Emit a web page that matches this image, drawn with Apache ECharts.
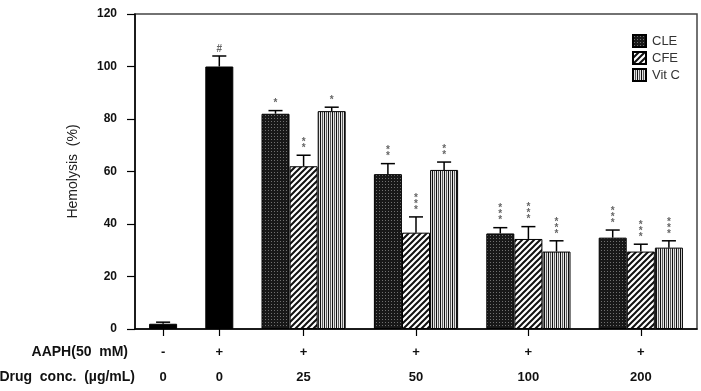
<!DOCTYPE html>
<html>
<head>
<meta charset="utf-8">
<script src="https://cdn.jsdelivr.net/npm/echarts@6/dist/echarts.min.js"></script>
<style>
html, body { margin: 0; padding: 0; background: #fff; }
#main { width: 701px; height: 391px; }
</style>
</head>
<body>
<div id="main"></div>
<script>
// group centres on the x scale (0..10) and the two label rows under them
const groupPos = [0.5, 1.5, 3, 5, 7, 9];
const aaphRow = ['-', '+', '+', '+', '+', '+'];
const concRow = ['0', '0', '25', '50', '100', '200'];

// control groups (no drug / AAPH only)
const controlVals = [2, 100];
const controlErr = [0.6, 4];
const controlSig = ['', '#'];

// treated groups: 25, 50, 100, 200 ug/mL
const cleVals = [82, 59, 36.4, 34.8];
const cleErr = [1.2, 4, 2.2, 2.9];
const cleSig = ['*', '**', '***', '***'];

const cfeVals = [62, 36.7, 34.3, 29.5];
const cfeErr = [4.2, 6, 4.7, 2.8];
const cfeSig = ['**', '***', '***', '***'];

const vitcVals = [83, 60.6, 29.5, 31];
const vitcErr = [1.5, 3, 4.1, 2.6];
const vitcSig = ['*', '**', '***', '***'];

const FONT = '"Liberation Sans", Arial, sans-serif';

function makePattern(w, h, draw) {
    const c = document.createElement('canvas');
    c.width = w;
    c.height = h;
    draw(c.getContext('2d'));
    return { image: c, repeat: 'repeat' };
}

// dark dotted fill
const clePattern = makePattern(3, 3, ctx => {
    ctx.fillStyle = '#181818';
    ctx.fillRect(0, 0, 3, 3);
    ctx.fillStyle = '#707070';
    ctx.fillRect(1, 1, 1, 1);
});
// diagonal hatch  ////
const cfePattern = makePattern(6, 6, ctx => {
    ctx.fillStyle = '#fff';
    ctx.fillRect(0, 0, 6, 6);
    ctx.strokeStyle = '#111';
    ctx.lineWidth = 2;
    ctx.beginPath();
    ctx.moveTo(-1, 7); ctx.lineTo(7, -1);
    ctx.moveTo(-1, 1); ctx.lineTo(1, -1);
    ctx.moveTo(5, 7); ctx.lineTo(7, 5);
    ctx.stroke();
});
// vertical stripes
const vitcPattern = makePattern(4, 4, ctx => {
    const cols = ['#111', '#e6e6e6', '#5a5a5a', '#e6e6e6'];
    cols.forEach((c, i) => { ctx.fillStyle = c; ctx.fillRect(i, 0, 1, 4); });
});

const treated = groupPos.slice(2);

function barSeries(name, xs, vals, fill) {
    return {
        name: name,
        type: 'bar',
        data: xs.map((x, i) => [x, vals[i]]),
        barWidth: 28,
        barGap: '-100%',
        itemStyle: { color: fill, borderColor: '#000', borderWidth: 1 },
        emphasis: { disabled: true }
    };
}

function errSeries(xs, vals, errs, sigs) {
    return {
        type: 'custom',
        silent: true,
        z: 5,
        data: xs.map((x, i) => [x, vals[i], errs[i]]),
        renderItem: (params, api) => {
            const x = api.value(0), v = api.value(1), e = api.value(2);
            const p0 = api.coord([x, v]);
            const p1 = api.coord([x, v + e]);
            const hw = api.size([0.125, 0])[0];
            return {
                type: 'group',
                children: [
                    { type: 'line', shape: { x1: p0[0], y1: p0[1], x2: p1[0], y2: p1[1] },
                      style: { stroke: '#000', lineWidth: 1.5 } },
                    { type: 'line', shape: { x1: p1[0] - hw, y1: p1[1], x2: p1[0] + hw, y2: p1[1] },
                      style: { stroke: '#000', lineWidth: 1.5 } },
                    { type: 'text', x: p1[0], y: p1[1] - 4,
                      style: { text: sigs[params.dataIndex].split('').join('\n'), fill: '#666',
                               font: 'bold 10px ' + FONT, align: 'center', verticalAlign: 'bottom', lineHeight: 6 } }
                ]
            };
        }
    };
}

function labelIndex(v) {
    return groupPos.findIndex(p => Math.abs(p - v) < 1e-6);
}

var myChart = echarts.init(document.getElementById('main'));
myChart.setOption({
    animation: false,
    grid: {
        left: 135, right: 4, top: 14, bottom: 62,
        show: true, borderColor: '#444', borderWidth: 1.5
    },
    legend: {
        data: ['CLE', 'CFE', 'Vit C'],
        orient: 'vertical',
        left: 627, top: 29,
        itemWidth: 13, itemHeight: 12, itemGap: 3,
        icon: 'rect',
        textStyle: { fontFamily: FONT, fontSize: 13, color: '#333', padding: [0, 0, 0, 1] }
    },
    xAxis: {
        type: 'value',
        min: 0, max: 10,
        splitLine: { show: false },
        axisLine: { show: true, lineStyle: { color: '#000', width: 1.5 } },
        axisTick: { show: true, customValues: groupPos, length: 7, lineStyle: { color: '#000', width: 1.2 } },
        axisLabel: {
            customValues: groupPos,
            margin: 11,
            formatter: v => {
                const i = labelIndex(v);
                return '{a|' + aaphRow[i] + '}\n{b|' + concRow[i] + '}';
            },
            rich: {
                a: { fontFamily: FONT, fontSize: 13, fontWeight: 'bold', color: '#111', lineHeight: 25 },
                b: { fontFamily: FONT, fontSize: 13, fontWeight: 'bold', color: '#111', lineHeight: 25 }
            }
        }
    },
    yAxis: {
        type: 'value',
        min: 0, max: 120, interval: 20,
        name: 'Hemolysis  (%)',
        nameLocation: 'middle',
        nameRotate: 90,
        nameGap: 55,
        nameTextStyle: { fontFamily: FONT, fontSize: 14, color: '#222' },
        splitLine: { show: false },
        axisLine: { show: true, lineStyle: { color: '#000', width: 1.5 } },
        axisTick: { show: true, length: 8, lineStyle: { color: '#000', width: 1.2 } },
        axisLabel: { margin: 18, fontFamily: FONT, fontSize: 12, fontWeight: 'bold', color: '#111' }
    },
    graphic: [
        { type: 'text', x: 128, y: 352,
          style: { text: 'AAPH(50  mM)', align: 'right', verticalAlign: 'middle',
                   font: 'bold 14px ' + FONT, fill: '#111' } },
        { type: 'text', x: 135, y: 377,
          style: { text: 'Drug  conc.  (µg/mL)', align: 'right', verticalAlign: 'middle',
                   font: 'bold 14px ' + FONT, fill: '#111' } }
    ],
    series: [
        barSeries('Control', groupPos.slice(0, 2), controlVals, '#000'),
        barSeries('CLE', treated.map(p => p - 0.5), cleVals, clePattern),
        barSeries('CFE', treated, cfeVals, cfePattern),
        barSeries('Vit C', treated.map(p => p + 0.5), vitcVals, vitcPattern),
        errSeries(groupPos.slice(0, 2), controlVals, controlErr, controlSig),
        errSeries(treated.map(p => p - 0.5), cleVals, cleErr, cleSig),
        errSeries(treated, cfeVals, cfeErr, cfeSig),
        errSeries(treated.map(p => p + 0.5), vitcVals, vitcErr, vitcSig)
    ]
});
</script>
</body>
</html>
